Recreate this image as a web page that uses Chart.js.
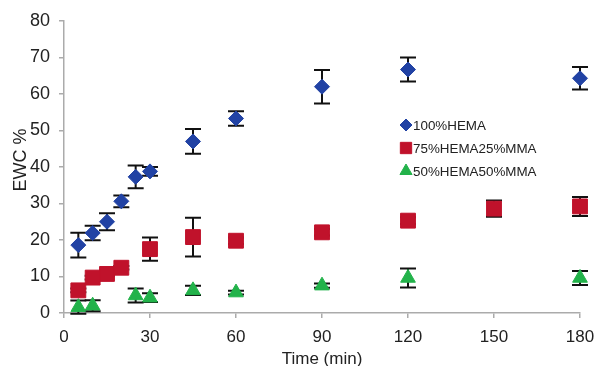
<!DOCTYPE html>
<html>
<head>
<meta charset="utf-8">
<script src="https://cdn.jsdelivr.net/npm/chart.js@4/dist/chart.umd.min.js"></script>
<style>
  html, body { margin: 0; padding: 0; background: #ffffff; }
  #wrap { width: 596px; height: 366px; }
</style>
</head>
<body>
<div id="wrap"><canvas id="c" width="596" height="366"></canvas></div>
<script>
// Sampling times (min)
const times = [5, 10, 15, 20, 25, 30, 45, 60, 90, 120, 150, 180];

// Equilibrium water content (%) per formulation; null = not measured
const hema100 = [18.6, 21.9, 25.0, 30.6, 37.3, 38.8, 47.0, 53.3, 62.0, 66.7, null, 64.3];
const hema100Err = [3.4, 2.0, 2.3, 1.6, 3.1, 1.2, 3.4, 2.0, 4.6, 3.3, null, 3.1];

const hema75mma25 = [6.2, 9.7, 10.7, 12.4, null, 17.5, 20.8, 19.8, 22.1, 25.3, 28.6, 29.2];
const hema75mma25Err = [0.5, 0.5, 0.5, 0.5, null, 3.2, 5.3, 0.9, 0.9, 0.9, 2.2, 2.6];

const hema50mma50 = [1.6, 2.0, null, null, 4.8, 4.2, 6.2, 5.6, 7.5, 9.6, null, 9.6];
const hema50mma50Err = [1.8, 1.5, null, null, 1.9, 1.2, 1.3, 0.5, 0.6, 2.6, null, 1.9];

const seriesLabels = ['100%HEMA', '75%HEMA25%MMA', '50%HEMA50%MMA'];
const xTicks = [0, 30, 60, 90, 120, 150, 180];
const yTicks = [0, 10, 20, 30, 40, 50, 60, 70, 80];
const yTitle = 'EWC %';
const xTitle = 'Time (min)';

function points(values, errs) {
  const out = [];
  times.forEach((t, i) => {
    if (values[i] !== null) out.push({ x: t, y: values[i], err: errs[i] });
  });
  return out;
}

const FONT = "'Liberation Sans', Arial, sans-serif";
const AXIS_GREY = '#ababab';
const TEXT = '#222222';

// Symmetric error bars with caps, drawn beneath the markers
const errorBars = {
  id: 'errorBars',
  beforeDatasetsDraw(chart) {
    const ctx = chart.ctx;
    const xs = chart.scales.x, ys = chart.scales.y;
    const cap = 8;
    ctx.save();
    ctx.strokeStyle = '#111111';
    ctx.lineWidth = 2;
    chart.data.datasets.forEach((ds) => {
      ds.data.forEach((p) => {
        if (p.err == null) return;
        const px = xs.getPixelForValue(p.x);
        const top = ys.getPixelForValue(p.y + p.err);
        const bot = ys.getPixelForValue(p.y - p.err);
        ctx.beginPath();
        ctx.moveTo(px, top); ctx.lineTo(px, bot);
        ctx.moveTo(px - cap, top); ctx.lineTo(px + cap, top);
        ctx.moveTo(px - cap, bot); ctx.lineTo(px + cap, bot);
        ctx.stroke();
      });
    });
    ctx.restore();
  }
};

// Legend inside the plot area, plus the rotated y-axis title
const insideLegend = {
  id: 'insideLegend',
  afterDraw(chart) {
    const ctx = chart.ctx;
    const x0 = 406, y0 = 125, rowGap = 23;
    const legendRadius = [6, 8, 7];
    ctx.save();
    ctx.font = '13.4px ' + FONT;
    ctx.textBaseline = 'middle';
    ctx.textAlign = 'left';
    chart.data.datasets.forEach((ds, i) => {
      const y = y0 + i * rowGap;
      ctx.fillStyle = ds.backgroundColor;
      ctx.strokeStyle = ds.backgroundColor;
      ctx.lineWidth = 1;
      Chart.helpers.drawPoint(ctx, { pointStyle: ds.pointStyle, radius: legendRadius[i], borderWidth: 1, rotation: 0 }, x0, y);
      ctx.fillStyle = TEXT;
      ctx.fillText(ds.label, x0 + 7, y + 1);
    });

    ctx.translate(21, 160);
    ctx.rotate(-Math.PI / 2);
    ctx.font = '18px ' + FONT;
    ctx.textAlign = 'center';
    ctx.fillStyle = TEXT;
    ctx.fillText(yTitle, 0, 0);
    ctx.restore();
  }
};

new Chart(document.getElementById('c'), {
  type: 'scatter',
  data: {
    datasets: [
      {
        label: seriesLabels[0],
        data: points(hema100, hema100Err),
        pointStyle: 'rectRot',
        pointRadius: 7.5,
        backgroundColor: '#2142a4',
        borderColor: '#2142a4',
        borderWidth: 1,
        clip: false
      },
      {
        label: seriesLabels[1],
        data: points(hema75mma25, hema75mma25Err),
        pointStyle: 'rect',
        pointRadius: 10.5,
        backgroundColor: '#c0122b',
        borderColor: '#c0122b',
        borderWidth: 1,
        clip: false
      },
      {
        label: seriesLabels[2],
        data: points(hema50mma50, hema50mma50Err),
        pointStyle: 'triangle',
        pointRadius: 8.5,
        backgroundColor: '#22b24a',
        borderColor: '#22b24a',
        borderWidth: 1,
        clip: false
      }
    ]
  },
  options: {
    responsive: false,
    animation: false,
    devicePixelRatio: 1,
    layout: { padding: { left: 0, right: 16, top: 21, bottom: 0 } },
    plugins: {
      legend: { display: false },
      tooltip: { enabled: false }
    },
    scales: {
      x: {
        type: 'linear',
        min: 0,
        max: 180,
        afterBuildTicks(scale) { scale.ticks = xTicks.map(v => ({ value: v })); },
        afterFit(scale) { scale.height = 53; scale.paddingLeft = 0; scale.paddingRight = 0; },
        border: { display: true, color: AXIS_GREY, width: 1.5 },
        grid: { display: true, drawOnChartArea: false, drawTicks: true, tickLength: 5, color: AXIS_GREY, lineWidth: 1.5 },
        ticks: { color: TEXT, font: { family: FONT, size: 17 }, padding: 9, maxRotation: 0 },
        title: { display: true, text: xTitle, color: TEXT, font: { family: FONT, size: 17 }, padding: { top: 0, bottom: -4 } }
      },
      y: {
        type: 'linear',
        min: 0,
        max: 80,
        afterBuildTicks(scale) { scale.ticks = yTicks.map(v => ({ value: v })); },
        afterFit(scale) { scale.width = 64; scale.paddingTop = 0; scale.paddingBottom = 0; },
        border: { display: true, color: AXIS_GREY, width: 1.5 },
        grid: { display: true, drawOnChartArea: false, drawTicks: true, tickLength: 5, color: AXIS_GREY, lineWidth: 1.5 },
        ticks: { color: TEXT, font: { family: FONT, size: 18 }, padding: 9 },
        title: { display: false }
      }
    }
  },
  plugins: [errorBars, insideLegend]
});
</script>
</body>
</html>
